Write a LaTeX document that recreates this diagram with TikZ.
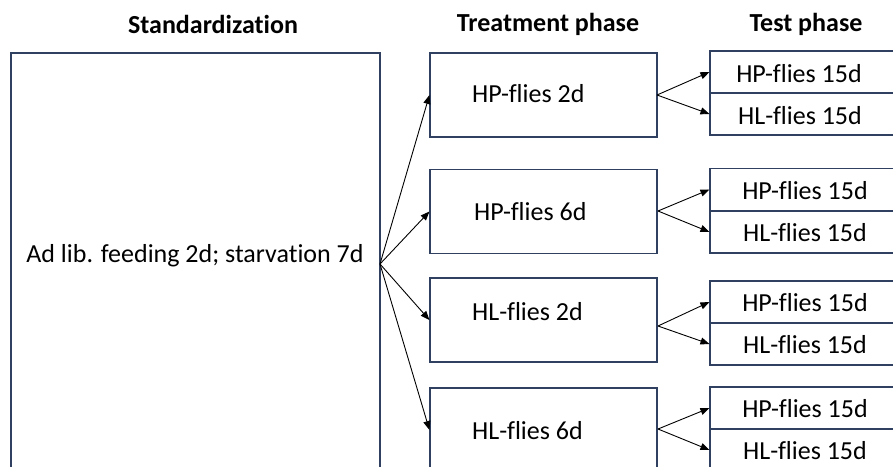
\documentclass[tikz,border=0pt]{standalone}
\usepackage{fontspec}
\setmainfont{Carlito}[Ligatures=NoCommon]
\usetikzlibrary{arrows.meta}
\definecolor{boxline}{RGB}{47,64,96}
\tikzset{
  box/.style={draw=boxline, line width=1.1pt, rectangle, inner sep=0pt, fill=white},
  lbl/.style={font=\fontsize{26}{30}\selectfont, text=black, inner sep=0pt},
  head/.style={font=\fontsize{26}{30}\selectfont\bfseries, text=black, inner sep=0pt},
  conn/.style={draw=black, line width=0.9pt, -{Triangle[length=9pt,width=7pt]}}
}
\begin{document}
\begin{tikzpicture}[x=1pt,y=-1pt]
\useasboundingbox (0,0) rectangle (893,466);
\clip (0,0) rectangle (893,466);
% headers
\node[head] (h1) at (213,24) {Standardization};
\node[head] (h2) at (548,24) {Treatment phase};
\node[head] (h3) at (806,24) {Test phase};
% standardization box
\node[box, minimum width=369pt, minimum height=422pt] (std) at (195.5,264) {};
\node[lbl] (stdt) at (195,256) {Ad lib. feeding 2d; starvation 7d};
% treatment boxes
\node[box, minimum width=227pt, minimum height=84pt] (t1) at (543.5,95) {};
\node[box, minimum width=227pt, minimum height=84pt] (t2) at (543.5,211.5) {};
\node[box, minimum width=227pt, minimum height=84pt] (t3) at (543.5,320) {};
\node[box, minimum width=227pt, minimum height=84pt] (t4) at (543.5,430) {};
\node[lbl, anchor=west] (t1t) at (472,94) {HP-flies 2d};
\node[lbl, anchor=west] (t2t) at (474,212) {HP-flies 6d};
\node[lbl, anchor=west] (t3t) at (472,312) {HL-flies 2d};
\node[lbl, anchor=west] (t4t) at (472,431) {HL-flies 6d};
% test boxes
\node[box, minimum width=220pt, minimum height=42pt] (p1a) at (820,72) {};
\node[box, minimum width=220pt, minimum height=42pt] (p1b) at (820,114) {};
\node[box, minimum width=220pt, minimum height=42.5pt] (p2a) at (820,189.5) {};
\node[box, minimum width=220pt, minimum height=42pt] (p2b) at (820,232) {};
\node[box, minimum width=220pt, minimum height=42pt] (p3a) at (820,302) {};
\node[box, minimum width=220pt, minimum height=42pt] (p3b) at (820,344) {};
\node[box, minimum width=220pt, minimum height=42pt] (p4a) at (820,408) {};
\node[box, minimum width=220pt, minimum height=42pt] (p4b) at (820,450) {};
\node[lbl] (p1at) at (799,74) {HP-flies 15d};
\node[lbl] (p1bt) at (800,116) {HL-flies 15d};
\node[lbl] (p2at) at (805,191) {HP-flies 15d};
\node[lbl] (p2bt) at (805,233) {HL-flies 15d};
\node[lbl] (p3at) at (805,303) {HP-flies 15d};
\node[lbl] (p3bt) at (805,345) {HL-flies 15d};
\node[lbl] (p4at) at (805,409) {HP-flies 15d};
\node[lbl] (p4bt) at (805,451) {HL-flies 15d};
% connectors
\coordinate (o) at (380,264);
\draw[conn] (o) -- (t1.west);
\draw[conn] (o) -- (t2.west);
\draw[conn] (o) -- (t3.west);
\draw[conn] (o) -- (t4.west);
\coordinate (o1) at (657,95);
\coordinate (o2) at (658,211);
\coordinate (o3) at (658,326);
\coordinate (o4) at (658,429);
\draw[conn] (o1) -- (p1a.west);
\draw[conn] (o1) -- (p1b.west);
\draw[conn] (o2) -- (p2a.west);
\draw[conn] (o2) -- (p2b.west);
\draw[conn] (o3) -- (p3a.west);
\draw[conn] (o3) -- (p3b.west);
\draw[conn] (o4) -- (p4a.west);
\draw[conn] (o4) -- (p4b.west);
\end{tikzpicture}
\end{document}
